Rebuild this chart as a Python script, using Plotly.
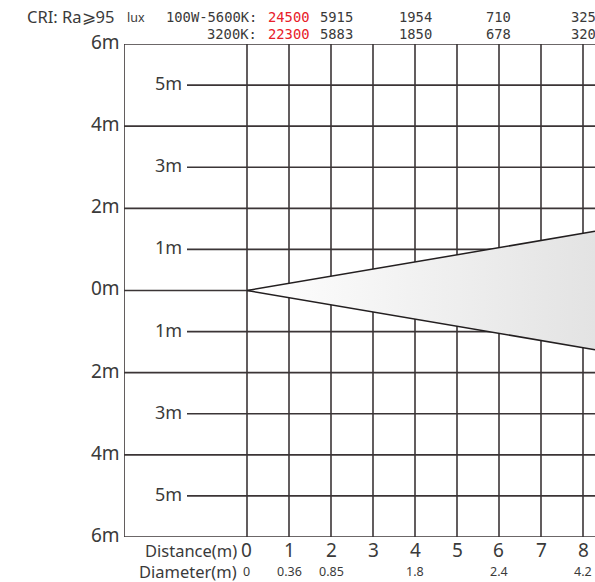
import plotly.graph_objects as go

# datos del diagrama fotometrico
distancias = [0, 1, 2, 3, 4, 5, 6, 7, 8]
niveles_pares = [-6, -4, -2, 0, 2, 4, 6]
niveles_impares = [-5, -3, -1, 1, 3, 5]
etiquetas_pares = ['6m', '4m', '2m', '0m', '2m', '4m', '6m']
etiquetas_impares = ['5m', '3m', '1m', '1m', '3m', '5m']

dist_lux = [1, 2, 4, 6, 8]
lux_5600 = ['24500', '5915', '1954', '710', '325']
lux_3200 = ['22300', '5883', '1850', '678', '320']

dist_diam = [0, 1, 2, 4, 6, 8]
diametros = ['0', '0.36', '0.85', '1.8', '2.4', '4.2']

angulo_haz = 19
mitad_haz = 1.44   # semiancho del haz en el borde derecho (m)

# geometria (px)
W, H = 595, 582
PX_X = 42.0
PX_Y = 41.08
X_MIN = -123 / PX_X
X_MAX = (W - 247) / PX_X
X_IMPAR = -60 / PX_X
Y_MIN, Y_MAX = -6, 6

COLOR_LINEA = '#3b3536'
COLOR_TEXTO = '#3a3a3a'
FUENTE = 'Noto Sans'
MONO = 'DejaVu Sans Mono'

fig = go.Figure()

# lineas horizontales
xs, ys = [], []
for y in niveles_pares:
    xs += [X_MIN, X_MAX, None]
    ys += [y, y, None]
for y in niveles_impares:
    xs += [X_IMPAR, X_MAX, None]
    ys += [y, y, None]
# verticales
for x in [X_MIN] + distancias:
    xs += [x, x, None]
    ys += [-6, 6, None]

fig.add_trace(go.Scatter(
    x=xs, y=ys, mode='lines',
    line=dict(color=COLOR_LINEA, width=1.6),
    hoverinfo='skip', showlegend=False, cliponaxis=False
))

# haz de luz
fig.add_trace(go.Scatter(
    x=[0, X_MAX, X_MAX, 0],
    y=[0, mitad_haz, -mitad_haz, 0],
    mode='lines', fill='toself',
    fillgradient=dict(type='horizontal',
                      colorscale=[[0, '#ffffff'], [1, '#e3e3e3']]),
    line=dict(color='rgba(0,0,0,0)', width=0),
    hoverinfo='skip', showlegend=False
))
fig.add_trace(go.Scatter(
    x=[X_MAX, 0, X_MAX],
    y=[mitad_haz, 0, -mitad_haz],
    mode='lines',
    line=dict(color='#231f20', width=1.5),
    hoverinfo='skip', showlegend=False
))

anot = []

def texto(x, y, t, size, xanchor='center', color=COLOR_TEXTO, font=FUENTE, **kw):
    # coordenadas de datos -> papel (las anotaciones fuera de rango se ocultan)
    xp = (x - X_MIN) / (X_MAX - X_MIN)
    yp = (y - Y_MIN) / (Y_MAX - Y_MIN)
    anot.append(dict(x=xp, y=yp, text=t, showarrow=False, xanchor=xanchor,
                     yanchor='middle', borderpad=0,
                     font=dict(family=font, size=size, color=color),
                     xref='paper', yref='paper', **kw))

# etiquetas eje vertical
for y, t in zip(niveles_pares, etiquetas_pares):
    texto(X_MIN - 3 / PX_X, y + 0.05, t, 19, xanchor='right')
for y, t in zip(niveles_impares, etiquetas_impares):
    texto(X_IMPAR - 4 / PX_X, y + 0.05, t, 18, xanchor='right')

# eje inferior
y_dist = -259.5 / PX_Y
y_diam = -280.5 / PX_Y
texto(-9 / PX_X, y_dist, 'Distance(m)', 16.5, xanchor='right')
texto(-9 / PX_X, y_diam, 'Diameter(m)', 16.5, xanchor='right')
for d in distancias:
    texto(d, y_dist, str(d), 19)
for d, t in zip(dist_diam, diametros):
    texto(d, y_diam, t, 12.5)

# cabecera
y_f1 = 273 / PX_Y
y_f2 = 256 / PX_Y
texto(-221 / PX_X, y_f1 + 0.02, 'CRI: Ra⩾95', 16.5, xanchor='left')
texto(-121 / PX_X, y_f1, 'lux', 12.5, xanchor='left')
texto(11 / PX_X, y_f1, '100W-5600K:', 13.8, xanchor='right', font=MONO)
texto(11 / PX_X, y_f2, '3200K:', 13.8, xanchor='right', font=MONO)
for i, (d, a, b) in enumerate(zip(dist_lux, lux_5600, lux_3200)):
    color = '#e8202a' if i == 0 else COLOR_TEXTO
    shift = 5 if i == 1 else 0
    texto(d, y_f1, a, 13.8, color=color, font=MONO, xshift=shift)
    texto(d, y_f2, b, 13.8, color=color, font=MONO, xshift=shift)

# angulo del haz (cortado en el borde)
texto(X_MAX + 12 / PX_X, 0.1, f'{angulo_haz}°', 15, textangle=-90)

fig.update_layout(
    width=W, height=H,
    margin=dict(l=124, r=0, t=44, b=45),
    paper_bgcolor='white', plot_bgcolor='white',
    xaxis=dict(range=[X_MIN, X_MAX], visible=False, fixedrange=True),
    yaxis=dict(range=[Y_MIN, Y_MAX], visible=False, fixedrange=True),
    annotations=anot,
    showlegend=False
)

fig.write_html('out.html', config={'displayModeBar': False},
               post_script="document.body.style.margin='0';")
